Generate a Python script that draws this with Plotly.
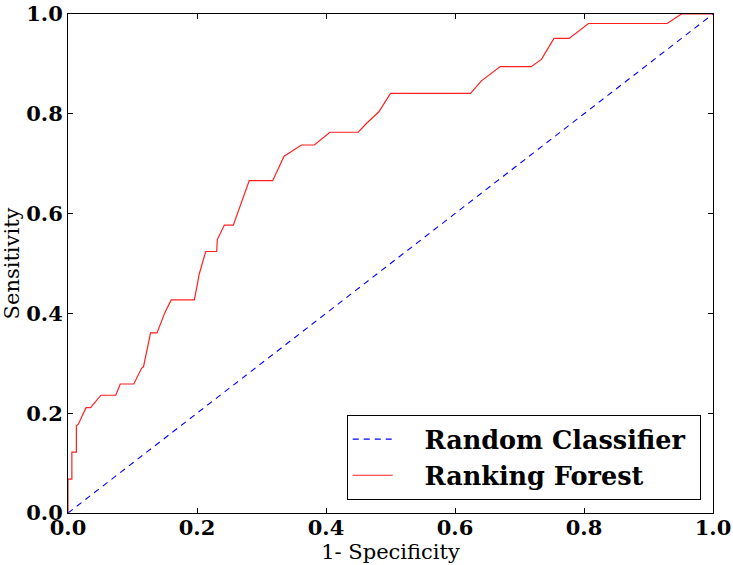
import plotly.graph_objects as go

# ROC curve of the Ranking Forest
fpr = [0.0, 0.0, 0.006, 0.006, 0.013, 0.013, 0.016, 0.028, 0.035, 0.051, 0.074, 0.081,
       0.102, 0.114, 0.117, 0.128, 0.138, 0.150, 0.160, 0.196, 0.2035, 0.2135, 0.2305,
       0.2315, 0.2424, 0.2563, 0.281, 0.3173, 0.335, 0.362, 0.382, 0.406, 0.450, 0.463,
       0.482, 0.500, 0.624, 0.641, 0.670, 0.718, 0.734, 0.7535, 0.777, 0.807, 0.929,
       0.951, 1.0]
tpr = [0.0, 0.068, 0.068, 0.122, 0.122, 0.175, 0.178, 0.211, 0.211, 0.236, 0.236, 0.2585,
       0.2585, 0.290, 0.293, 0.361, 0.361, 0.401, 0.427, 0.427, 0.479, 0.524, 0.524,
       0.548, 0.577, 0.577, 0.666, 0.666, 0.715, 0.7375, 0.7375, 0.763, 0.763, 0.781,
       0.804, 0.841, 0.841, 0.866, 0.8945, 0.8945, 0.909, 0.951, 0.951, 0.981, 0.981,
       1.0, 1.0]

diag_x = [0.0, 1.0]
diag_y = [0.0, 1.0]

tick_vals = [0.0, 0.2, 0.4, 0.6, 0.8, 1.0]
tick_text = ["0.0", "0.2", "0.4", "0.6", "0.8", "1.0"]

series_names = ["Random Classifier", "Ranking Forest"]

FONT = "DejaVu Serif"
NB = "\u00a0"

fig = go.Figure()
fig.add_trace(go.Scatter(x=diag_x, y=diag_y, mode="lines", name=NB * 3 + series_names[0] + NB,
                         line=dict(color="#0000ff", width=1.1, dash="6px,5px")))
fig.add_trace(go.Scatter(x=fpr, y=tpr, mode="lines", name=NB * 3 + series_names[1] + NB,
                         line=dict(color="#ff2020", width=1.2)))

axis_common = dict(
    range=[0, 1], tickvals=tick_vals, ticktext=tick_text,
    ticks="inside", ticklen=5, tickcolor="black", tickwidth=1,
    showline=True, linecolor="black", linewidth=1, mirror="allticks",
    showgrid=False, zeroline=False, automargin=False,
    tickfont=dict(family=FONT, size=21, color="black", weight="bold"),
)

fig.update_xaxes(**axis_common, ticklabelstandoff=-4,
                 title=dict(text="1- Specificity", font=dict(family=FONT, size=21, color="black"),
                            standoff=0))
fig.update_yaxes(**axis_common,
                 title=dict(text="Sensitivity", font=dict(family=FONT, size=21, color="black"),
                            standoff=14))

fig.update_layout(
    width=733, height=565,
    margin=dict(l=68, r=20, t=14, b=52),
    paper_bgcolor="white", plot_bgcolor="white",
    showlegend=True,
    legend=dict(x=0.981, y=0.026, xanchor="right", yanchor="bottom",
                bordercolor="black", borderwidth=1, bgcolor="white",
                font=dict(family=FONT, size=25.5, color="black", weight="bold"),
                tracegroupgap=0, itemwidth=40),
)

fig.write_html("out.html", config={"displayModeBar": False},
               post_script="document.body.style.margin='0';")
